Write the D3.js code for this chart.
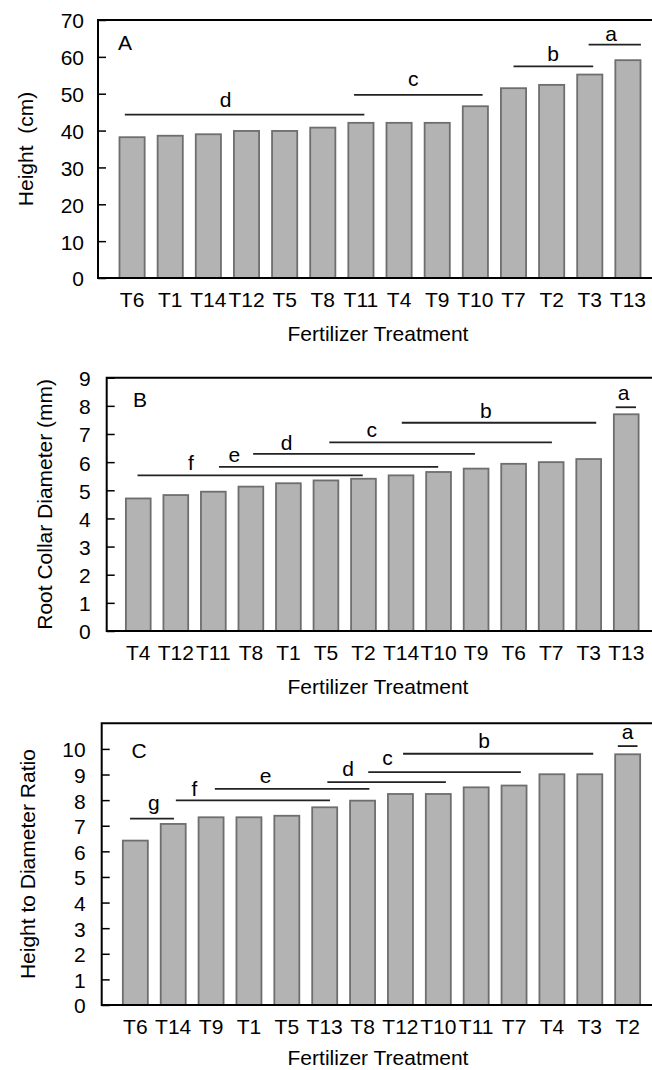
<!DOCTYPE html>
<html>
<head>
<meta charset="utf-8">
<script src="https://cdn.jsdelivr.net/npm/d3@7"></script>
<style>
  body { margin: 0; background: #fff; }
  text { font-family: 'Liberation Sans', Arial, sans-serif; font-size: 21px; fill: #000; white-space: pre; }
</style>
</head>
<body>
<svg id="chart" width="652" height="1070"></svg>
<script>
// panel A - height
const treatmentsA = ['T6', 'T1', 'T14', 'T12', 'T5', 'T8', 'T11', 'T4', 'T9', 'T10', 'T7', 'T2', 'T3', 'T13'];
const heightA = [38.2, 38.6, 39.0, 39.9, 39.9, 40.8, 42.1, 42.1, 42.1, 46.6, 51.5, 52.4, 55.2, 59.1];
const ticksA = [0, 10, 20, 30, 40, 50, 60, 70];
// letter groups: from/to/lx in category index units, y/ly in data units
const groupsA = [
    {letter: 'd', from: -0.19, to: 6.09, y: 44.3, lx: 2.45, ly: 46.5},
    {letter: 'c', from: 5.82, to: 9.19, y: 49.7, lx: 7.37, ly: 52.2},
    {letter: 'b', from: 10.0, to: 12.09, y: 57.4, lx: 11.04, ly: 59.0},
    {letter: 'a', from: 11.97, to: 13.34, y: 63.3, lx: 12.56, ly: 64.4}
];

// panel B - root collar diameter
const treatmentsB = ['T4', 'T12', 'T11', 'T8', 'T1', 'T5', 'T2', 'T14', 'T10', 'T9', 'T6', 'T7', 'T3', 'T13'];
const diameterB = [4.71, 4.83, 4.95, 5.13, 5.25, 5.35, 5.41, 5.53, 5.65, 5.77, 5.94, 6.00, 6.11, 7.70];
const ticksB = [0, 1, 2, 3, 4, 5, 6, 7, 8, 9];
const groupsB = [
    {letter: 'f', from: -0.02, to: 5.98, y: 5.53, lx: 1.40, ly: 5.72},
    {letter: 'e', from: 2.15, to: 7.99, y: 5.83, lx: 2.56, ly: 6.01},
    {letter: 'd', from: 3.06, to: 8.97, y: 6.29, lx: 3.95, ly: 6.43},
    {letter: 'c', from: 5.09, to: 11.02, y: 6.70, lx: 6.22, ly: 6.90},
    {letter: 'b', from: 7.02, to: 12.20, y: 7.40, lx: 9.26, ly: 7.56},
    {letter: 'a', from: 12.72, to: 13.26, y: 7.95, lx: 12.93, ly: 8.21}
];

// panel C - height to diameter ratio
const treatmentsC = ['T6', 'T14', 'T9', 'T1', 'T5', 'T13', 'T8', 'T12', 'T10', 'T11', 'T7', 'T4', 'T3', 'T2'];
const ratioC = [6.42, 7.07, 7.33, 7.33, 7.39, 7.72, 7.98, 8.24, 8.24, 8.50, 8.57, 9.01, 9.01, 9.79];
const ticksC = [0, 1, 2, 3, 4, 5, 6, 7, 8, 9, 10];
const groupsC = [
    {letter: 'g', from: -0.14, to: 1.02, y: 7.28, lx: 0.49, ly: 7.63},
    {letter: 'f', from: 1.07, to: 5.14, y: 7.99, lx: 1.56, ly: 8.15},
    {letter: 'e', from: 2.10, to: 6.18, y: 8.44, lx: 3.44, ly: 8.65},
    {letter: 'd', from: 5.07, to: 8.20, y: 8.70, lx: 5.62, ly: 8.93},
    {letter: 'c', from: 6.15, to: 10.18, y: 9.09, lx: 6.66, ly: 9.39},
    {letter: 'b', from: 7.07, to: 12.09, y: 9.81, lx: 9.21, ly: 10.04},
    {letter: 'a', from: 12.74, to: 13.26, y: 10.11, lx: 13.0, ly: 10.40}
];

const svg = d3.select('#chart');

draw_panel({
    cats: treatmentsA, values: heightA, ticks: ticksA, groups: groupsA, yMax: 70,
    left: 98, top: 20, bottom: 278, xRange: [113, 647], tickPad: 14,
    tag: 'A', tagX: 118, tagY: 50,
    yTitle: 'Height  (cm)', yTitleX: 33, xTitleY: 341
});
draw_panel({
    cats: treatmentsB, values: diameterB, ticks: ticksB, groups: groupsB, yMax: 9,
    left: 106.7, top: 377.7, bottom: 631, xRange: [119.5, 645], tickPad: 16,
    tag: 'B', tagX: 133, tagY: 407,
    yTitle: 'Root Collar Diameter (mm)', yTitleX: 52, xTitleY: 694
});
draw_panel({
    cats: treatmentsC, values: ratioC, ticks: ticksC, groups: groupsC, yMax: 11,
    left: 101.7, top: 723.3, bottom: 1005, xRange: [116.4, 646.6], tickPad: 16,
    tag: 'C', tagX: 131.5, tagY: 758,
    yTitle: 'Height to Diameter Ratio', yTitleX: 35, xTitleY: 1065
});

function draw_panel(cfg) {
    const g = svg.append('g');
    const right = 662;

    const x = d3.scaleBand()
        .domain(cfg.cats)
        .range(cfg.xRange)
        .paddingInner(0.34)
        .paddingOuter(0.17);

    const y = d3.scaleLinear()
        .domain([0, cfg.yMax])
        .range([cfg.bottom, cfg.top]);

    // category index -> bar centre, for the letter group lines
    const last = cfg.cats[cfg.cats.length - 1];
    const pos = d3.scaleLinear()
        .domain([0, cfg.cats.length - 1])
        .range([x(cfg.cats[0]) + x.bandwidth() / 2, x(last) + x.bandwidth() / 2]);

    /* bars */
    g.selectAll('.bar')
        .data(cfg.cats.map((c, i) => ({cat: c, value: cfg.values[i]})))
        .enter().append('rect')
        .attr('class', 'bar')
        .attr('x', d => x(d.cat))
        .attr('width', x.bandwidth())
        .attr('y', d => y(d.value))
        .attr('height', d => y(0) - y(d.value))
        .attr('fill', '#b3b3b3')
        .attr('stroke', '#6e6e6e')
        .attr('stroke-width', 1.8);

    /* frame, right side runs off the page */
    g.append('path')
        .attr('d', 'M' + right + ',' + cfg.top + 'H' + cfg.left + 'V' + cfg.bottom + 'H' + right)
        .attr('fill', 'none')
        .attr('stroke', '#000')
        .attr('stroke-width', 2);

    /* y axis with inward ticks */
    const ya = g.append('g')
        .attr('transform', 'translate(' + cfg.left + ',0)')
        .call(d3.axisLeft(y).tickValues(cfg.ticks).tickSizeInner(-8).tickSizeOuter(0).tickPadding(cfg.tickPad));
    ya.select('.domain').remove();
    ya.selectAll('line').attr('stroke', '#000').attr('stroke-width', 1.5);
    ya.attr('font-family', null).attr('font-size', null);
    ya.selectAll('text').attr('dy', '0.38em');

    /* x axis labels only */
    const xa = g.append('g')
        .attr('transform', 'translate(0,' + cfg.bottom + ')')
        .call(d3.axisBottom(x).tickSize(0).tickPadding(14));
    xa.select('.domain').remove();
    xa.attr('font-family', null).attr('font-size', null);

    /* letter groups */
    g.selectAll('.grp')
        .data(cfg.groups)
        .enter().append('line')
        .attr('class', 'grp')
        .attr('x1', d => pos(d.from))
        .attr('x2', d => pos(d.to))
        .attr('y1', d => y(d.y))
        .attr('y2', d => y(d.y))
        .attr('stroke', '#222')
        .attr('stroke-width', 1.8);

    g.selectAll('.grp-label')
        .data(cfg.groups)
        .enter().append('text')
        .attr('class', 'grp-label')
        .attr('x', d => pos(d.lx))
        .attr('y', d => y(d.ly))
        .attr('text-anchor', 'middle')
        .text(d => d.letter);

    /* panel tag */
    g.append('text')
        .attr('x', cfg.tagX)
        .attr('y', cfg.tagY)
        .text(cfg.tag);

    /* axis titles */
    g.append('text')
        .attr('transform', 'translate(' + cfg.yTitleX + ',' + (cfg.top + cfg.bottom) / 2 + ') rotate(-90)')
        .attr('text-anchor', 'middle')
        .text(cfg.yTitle);

    g.append('text')
        .attr('x', 378)
        .attr('y', cfg.xTitleY)
        .attr('text-anchor', 'middle')
        .text('Fertilizer Treatment');
}
</script>
</body>
</html>
